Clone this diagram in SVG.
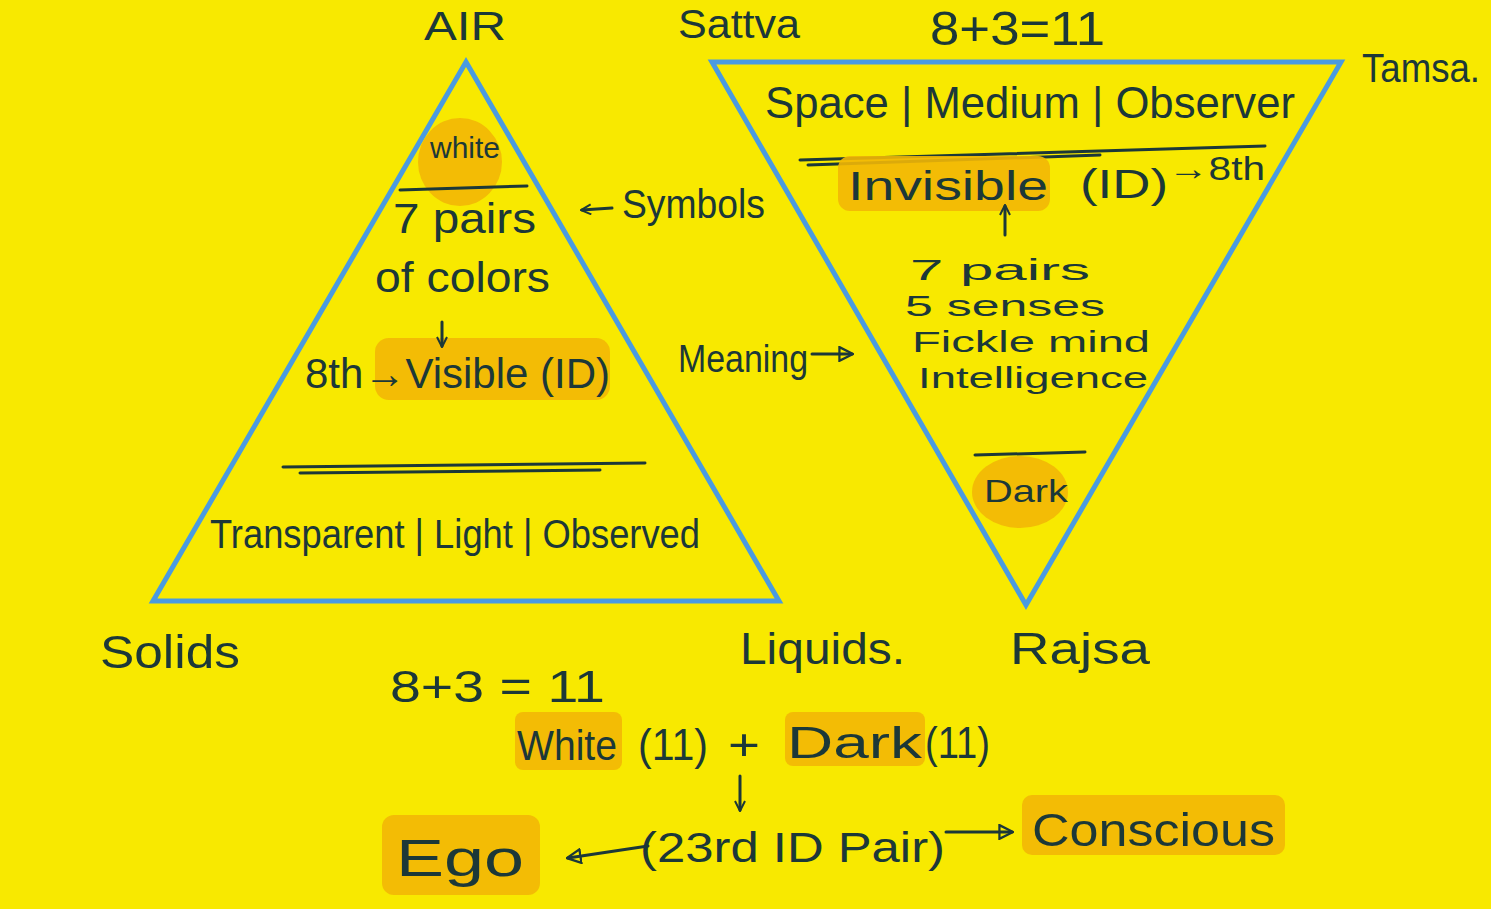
<svg xmlns="http://www.w3.org/2000/svg" width="1491" height="909" viewBox="0 0 1491 909">
<style>
  .bg{fill:#F8E900}
  .tri{fill:none;stroke:#4A9BE0;stroke-width:5;stroke-linejoin:miter}
  .hl{fill:#F2B705;opacity:0.9}
  .t{font-family:"Liberation Sans","DejaVu Sans",sans-serif;fill:#1C3838}
  .ln{stroke:#1C3838;stroke-width:3;fill:none;stroke-linecap:round}
</style>
<defs>
  <marker id="open" viewBox="0 0 12 12" refX="10" refY="6" markerWidth="12" markerHeight="12" markerUnits="userSpaceOnUse" orient="auto">
    <path d="M1,1 L11,6 L1,11" fill="none" stroke="#1C3838" stroke-width="2"/>
  </marker>
  <marker id="tri" viewBox="0 0 14 14" refX="12" refY="7" markerWidth="16" markerHeight="16" markerUnits="userSpaceOnUse" orient="auto">
    <path d="M1,1 L13,7 L1,13 Z" fill="none" stroke="#1C3838" stroke-width="2"/>
  </marker>
</defs>
<rect class="bg" x="0" y="0" width="1491" height="909"/>

<g id="air-triangle">
  <polygon class="tri" points="466,62 153,601 779,601"/>
  <ellipse class="hl" cx="460" cy="162" rx="42" ry="44"/>
  <text class="t" x="430" y="158" font-size="30" textLength="70" lengthAdjust="spacingAndGlyphs">white</text>
  <path class="ln" d="M400,190 L527,186"/>
  <text class="t" x="393" y="233" font-size="42" textLength="143" lengthAdjust="spacingAndGlyphs">7 pairs</text>
  <text class="t" x="375" y="292" font-size="42" textLength="175" lengthAdjust="spacingAndGlyphs">of colors</text>
  <rect class="hl" x="375" y="338" width="235" height="62" rx="14"/>
  <text class="t" x="305" y="388" font-size="42" textLength="305" lengthAdjust="spacingAndGlyphs">8th→Visible (ID)</text>
  <path class="ln" d="M283,467 L645,463 M300,473 L600,470"/>
  <text class="t" x="210" y="548" font-size="40" textLength="490" lengthAdjust="spacingAndGlyphs">Transparent | Light | Observed</text>
</g>

<g id="sattva-triangle">
  <polygon class="tri" points="712,62 1341,62 1026,605"/>
  <text class="t" x="765" y="118" font-size="44" textLength="530" lengthAdjust="spacingAndGlyphs">Space | Medium | Observer</text>
  <path class="ln" d="M800,160 L1265,146 M808,165 L1100,155"/>
  <rect class="hl" x="838" y="156" width="212" height="55" rx="12"/>
  <text class="t" x="848" y="200" font-size="40" textLength="200" lengthAdjust="spacingAndGlyphs">Invisible</text>
  <text class="t" x="1080" y="198" font-size="40" textLength="88" lengthAdjust="spacingAndGlyphs">(ID)</text>
  <text class="t" x="1168" y="180" font-size="34" textLength="97" lengthAdjust="spacingAndGlyphs">→8th</text>
  <text class="t" x="910" y="280" font-size="30" textLength="180" lengthAdjust="spacingAndGlyphs">7 pairs</text>
  <text class="t" x="905" y="316" font-size="30" textLength="200" lengthAdjust="spacingAndGlyphs">5 senses</text>
  <text class="t" x="912" y="352" font-size="30" textLength="238" lengthAdjust="spacingAndGlyphs">Fickle mind</text>
  <text class="t" x="918" y="388" font-size="30" textLength="230" lengthAdjust="spacingAndGlyphs">Intelligence</text>
  <path class="ln" d="M975,455 L1085,452"/>
  <ellipse class="hl" cx="1020" cy="492" rx="48" ry="36"/>
  <text class="t" x="984" y="502" font-size="32" textLength="84" lengthAdjust="spacingAndGlyphs">Dark</text>
</g>

<g id="labels">
  <text class="t" x="424" y="40" font-size="40" textLength="82" lengthAdjust="spacingAndGlyphs">AIR</text>
  <text class="t" x="678" y="38" font-size="40" textLength="122" lengthAdjust="spacingAndGlyphs">Sattva</text>
  <text class="t" x="930" y="45" font-size="48" textLength="175" lengthAdjust="spacingAndGlyphs">8+3=11</text>
  <text class="t" x="1362" y="82" font-size="40" textLength="118" lengthAdjust="spacingAndGlyphs">Tamsa.</text>
  <text class="t" x="622" y="218" font-size="40" textLength="143" lengthAdjust="spacingAndGlyphs">Symbols</text>
  <text class="t" x="678" y="372" font-size="38" textLength="130" lengthAdjust="spacingAndGlyphs">Meaning</text>
  <text class="t" x="100" y="668" font-size="46" textLength="140" lengthAdjust="spacingAndGlyphs">Solids</text>
  <text class="t" x="740" y="664" font-size="44" textLength="165" lengthAdjust="spacingAndGlyphs">Liquids.</text>
  <text class="t" x="1010" y="664" font-size="44" textLength="140" lengthAdjust="spacingAndGlyphs">Rajsa</text>
  <text class="t" x="390" y="702" font-size="44" textLength="215" lengthAdjust="spacingAndGlyphs">8+3 = 11</text>
</g>

<g id="white-dark">
  <rect class="hl" x="515" y="712" width="107" height="58" rx="8"/>
  <rect class="hl" x="785" y="712" width="140" height="54" rx="8"/>
  <text class="t" x="517" y="760" font-size="42" textLength="100" lengthAdjust="spacingAndGlyphs">White</text>
  <text class="t" x="638" y="760" font-size="44" textLength="70" lengthAdjust="spacingAndGlyphs">(11)</text>
  <text class="t" x="728" y="760" font-size="44" textLength="32" lengthAdjust="spacingAndGlyphs">+</text>
  <text class="t" x="787" y="758" font-size="44" textLength="135" lengthAdjust="spacingAndGlyphs">Dark</text>
  <text class="t" x="925" y="758" font-size="44" textLength="65" lengthAdjust="spacingAndGlyphs">(11)</text>
</g>

<g id="ego">
  <rect class="hl" x="382" y="815" width="158" height="80" rx="12"/>
  <text class="t" x="396" y="876" font-size="52" textLength="128" lengthAdjust="spacingAndGlyphs">Ego</text>
</g>

<g id="pair">
  <text class="t" x="640" y="862" font-size="42" textLength="305" lengthAdjust="spacingAndGlyphs">(23rd ID Pair)</text>
</g>

<g id="conscious">
  <rect class="hl" x="1022" y="795" width="263" height="60" rx="10"/>
  <text class="t" x="1032" y="846" font-size="46" textLength="243" lengthAdjust="spacingAndGlyphs">Conscious</text>
</g>

<g id="connectors">
  <path class="ln" d="M612,208 L582,210" marker-end="url(#open)"/>
  <path class="ln" d="M812,354 L852,354" marker-end="url(#tri)"/>
  <path class="ln" d="M442,322 L442,346" marker-end="url(#open)"/>
  <path class="ln" d="M1005,235 L1005,206" marker-end="url(#open)"/>
  <path class="ln" d="M740,776 L740,810" marker-end="url(#open)"/>
  <path class="ln" d="M648,846 L568,858" marker-end="url(#tri)"/>
  <path class="ln" d="M946,832 L1012,832" marker-end="url(#tri)"/>
</g>
</svg>
